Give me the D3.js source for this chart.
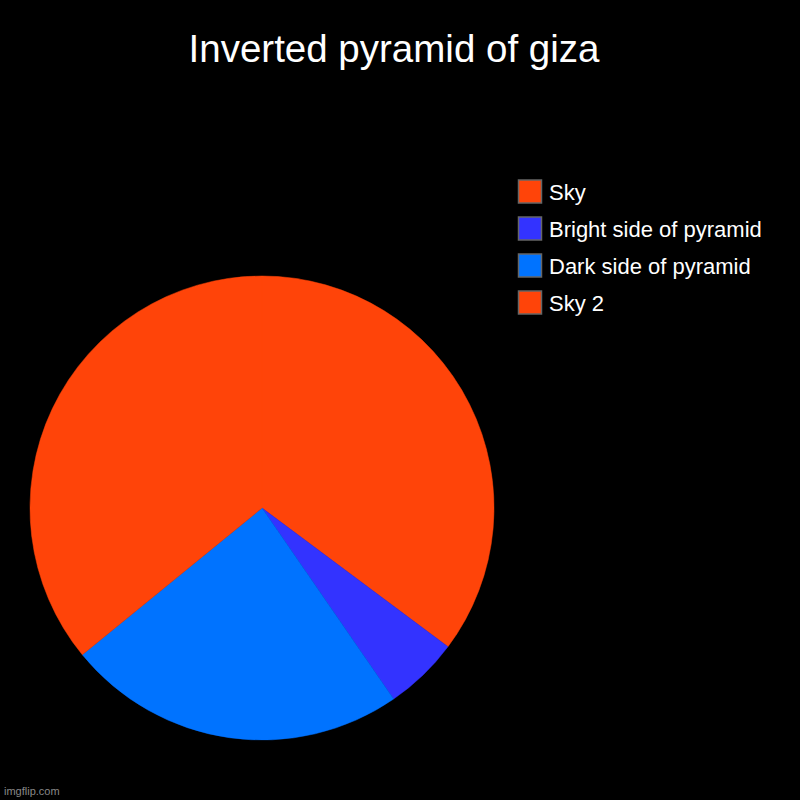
<!DOCTYPE html>
<html><head><meta charset="utf-8">
<script src="https://cdn.jsdelivr.net/npm/d3@7"></script>
<style>html,body{margin:0;padding:0;background:#000;}</style>
</head><body>
<svg id="chart" width="800" height="800"></svg>
<script>
const title = "Inverted pyramid of giza";
const categories = ["Sky", "Bright side of pyramid", "Dark side of pyramid", "Sky 2"];
const values = [35.2, 5.2, 23.7, 35.9];
const colors = ["#ff4409", "#3333ff", "#0073ff", "#ff4409"];

const svg = d3.select("#chart");
svg.append("rect").attr("width", 800).attr("height", 800).attr("fill", "#000");

svg.append("text").attr("x", 394).attr("y", 62).attr("text-anchor", "middle")
  .attr("fill", "#fff").attr("font-family", "Liberation Sans, Arial, sans-serif")
  .attr("font-size", 38.5).text(title);

const data = categories.map((c, i) => ({cat: c, value: values[i], color: colors[i]}));
const pie = d3.pie().value(d => d.value).sort(null);
const arc = d3.arc().innerRadius(0).outerRadius(232);

const g = svg.append("g").attr("transform", "translate(262,508)");
g.selectAll("path").data(pie(data)).join("path")
  .attr("d", arc).attr("fill", d => d.data.color)
  .attr("stroke", d => d.data.color).attr("stroke-width", 0.5);

const legendY = d3.scaleBand().domain(categories).range([173, 321]);
const lg = svg.append("g");
const rows = lg.selectAll("g").data(data).join("g")
  .attr("transform", d => `translate(518,${legendY(d.cat) + legendY.bandwidth()/2})`);
rows.append("rect").attr("x", 0.5).attr("y", -11.5).attr("width", 23).attr("height", 23)
  .attr("fill", d => d.color).attr("stroke", "#666").attr("stroke-width", 1.5);
rows.append("text").attr("x", 31).attr("y", 8).attr("fill", "#fff")
  .attr("font-family", "Liberation Sans, Arial, sans-serif").attr("font-size", 22)
  .text(d => d.cat);

svg.append("text").attr("x", 4).attr("y", 795).attr("fill", "#888")
  .attr("font-family", "Liberation Sans, Arial, sans-serif").attr("font-size", 11)
  .text("imgflip.com");
</script>
</body></html>
